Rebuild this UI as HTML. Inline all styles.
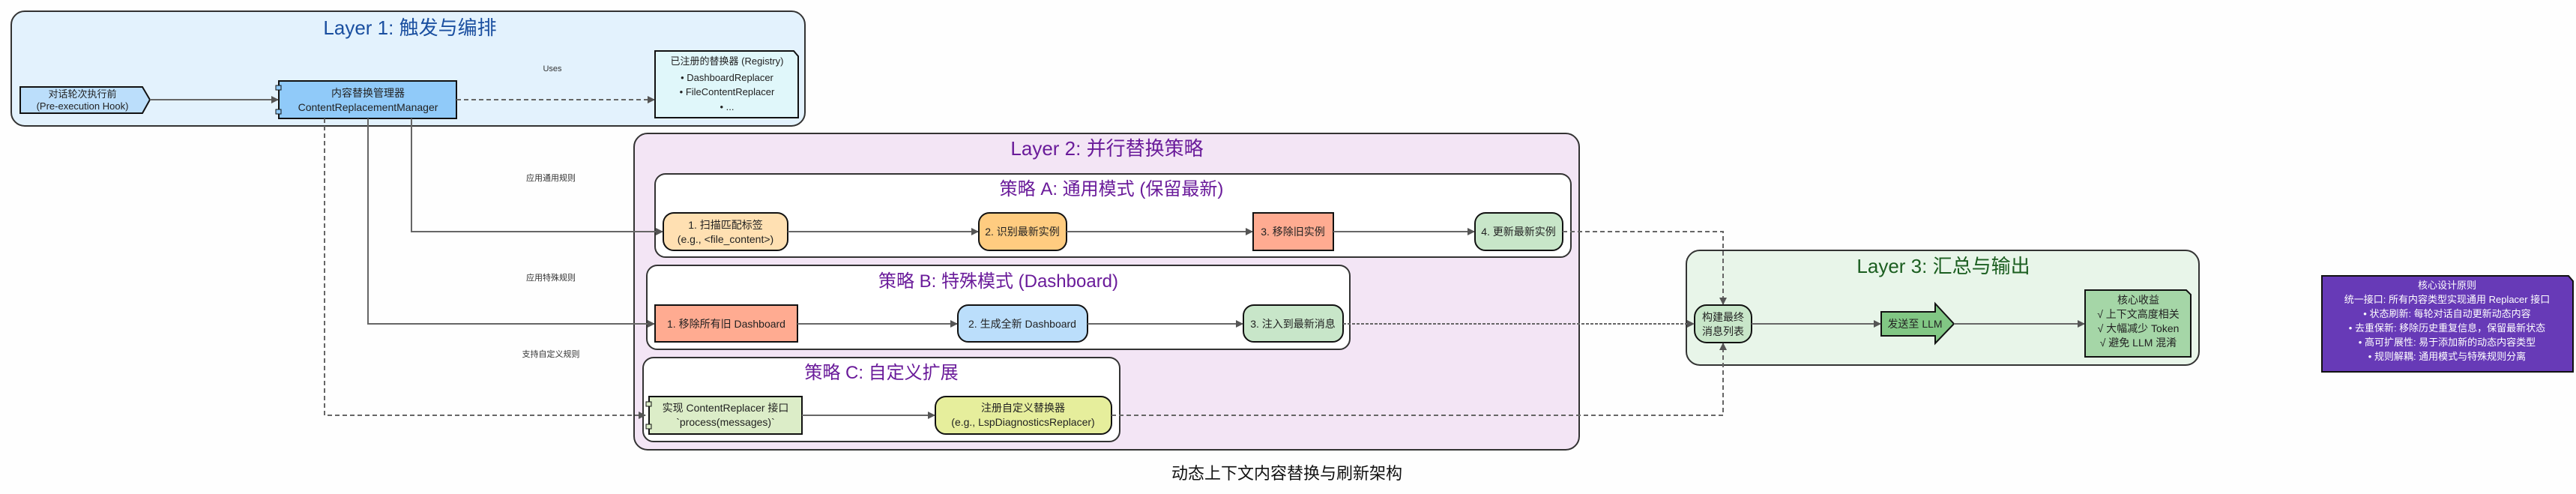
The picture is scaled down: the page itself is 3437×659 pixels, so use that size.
<!DOCTYPE html>
<html><head><meta charset="utf-8"><style>
html,body{margin:0;padding:0;background:#fefefe;}
svg{display:block;font-family:"Liberation Sans","Noto Sans CJK SC",sans-serif;}
</style></head><body>
<svg width="3437" height="659" viewBox="0 0 3437 659" xmlns="http://www.w3.org/2000/svg">
<defs>
<marker id="ah" markerWidth="10" markerHeight="10" refX="9" refY="5" orient="auto" markerUnits="userSpaceOnUse"><path d="M0,0 L10,5 L0,10 z" fill="#555"/></marker>
</defs>
<rect width="3437" height="659" fill="#fefefe"/>

<!-- Layer 1 -->
<rect x="15" y="15" width="1059" height="153" rx="18" fill="#e3f2fd" stroke="#333" stroke-width="2"/>
<text x="547" y="46" font-size="26" fill="#1a4fa0" text-anchor="middle">Layer 1: 触发与编排</text>
<polygon points="27,116 190,116 200,133 190,151 27,151" fill="#bbdefb" stroke="#111" stroke-width="2"/>
<text x="110" y="130" font-size="13" text-anchor="middle" fill="#222">对话轮次执行前</text>
<text x="110" y="146" font-size="13" text-anchor="middle" fill="#222">(Pre-execution Hook)</text>
<rect x="372" y="108" width="237" height="50" fill="#90caf9" stroke="#111" stroke-width="2"/>
<rect x="368" y="114" width="7" height="6" fill="#90caf9" stroke="#111"/>
<rect x="368" y="146" width="7" height="6" fill="#90caf9" stroke="#111"/>
<text x="491" y="129" font-size="14" text-anchor="middle" fill="#222">内容替换管理器</text>
<text x="491" y="148" font-size="14" text-anchor="middle" fill="#222">ContentReplacementManager</text>
<path d="M874,68 L1059,68 L1065,75 L1065,157 L874,157 z" fill="#e0f7fa" stroke="#111" stroke-width="2"/>
<text x="970" y="86" font-size="13" text-anchor="middle" fill="#222">已注册的替换器 (Registry)</text>
<text x="970" y="108" font-size="13" text-anchor="middle" fill="#222">• DashboardReplacer</text>
<text x="970" y="127" font-size="13" text-anchor="middle" fill="#222">• FileContentReplacer</text>
<text x="970" y="147" font-size="13" text-anchor="middle" fill="#222">• ...</text>
<text x="737" y="95" font-size="11" text-anchor="middle" fill="#333">Uses</text>
<line x1="200" y1="133" x2="371" y2="133" stroke="#666" stroke-width="2" marker-end="url(#ah)"/>
<line x1="609" y1="133" x2="873" y2="133" stroke="#666" stroke-width="2" stroke-dasharray="6,4" marker-end="url(#ah)"/>

<!-- Layer 2 -->
<rect x="846" y="178" width="1261" height="422" rx="18" fill="#f3e5f5" stroke="#333" stroke-width="2"/>
<text x="1477" y="207" font-size="26" fill="#6a1b9a" text-anchor="middle">Layer 2: 并行替换策略</text>

<rect x="874" y="232" width="1222" height="111" rx="14" fill="#fff" stroke="#333" stroke-width="2"/>
<text x="1483" y="260" font-size="24" fill="#6a1b9a" text-anchor="middle">策略 A: 通用模式 (保留最新)</text>
<rect x="885" y="284" width="166" height="50" rx="14" fill="#ffe0b2" stroke="#111" stroke-width="2"/>
<text x="968" y="305" font-size="14" text-anchor="middle" fill="#222">1. 扫描匹配标签</text>
<text x="968" y="324" font-size="14" text-anchor="middle" fill="#222">(e.g., &lt;file_content&gt;)</text>
<rect x="1306" y="284" width="117" height="50" rx="14" fill="#ffcc80" stroke="#111" stroke-width="2"/>
<text x="1364" y="314" font-size="14" text-anchor="middle" fill="#222">2. 识别最新实例</text>
<rect x="1672" y="284" width="107" height="50" fill="#ffab91" stroke="#111" stroke-width="2"/>
<text x="1725" y="314" font-size="14" text-anchor="middle" fill="#222">3. 移除旧实例</text>
<rect x="1968" y="284" width="117" height="50" rx="14" fill="#c8e6c9" stroke="#111" stroke-width="2"/>
<text x="2026" y="314" font-size="14" text-anchor="middle" fill="#222">4. 更新最新实例</text>
<line x1="1051" y1="309" x2="1305" y2="309" stroke="#666" stroke-width="2" marker-end="url(#ah)"/>
<line x1="1423" y1="309" x2="1671" y2="309" stroke="#666" stroke-width="2" marker-end="url(#ah)"/>
<line x1="1779" y1="309" x2="1967" y2="309" stroke="#666" stroke-width="2" marker-end="url(#ah)"/>

<rect x="863" y="354" width="938" height="112" rx="14" fill="#fff" stroke="#333" stroke-width="2"/>
<text x="1332" y="383" font-size="24" fill="#6a1b9a" text-anchor="middle">策略 B: 特殊模式 (Dashboard)</text>
<rect x="874" y="407" width="190" height="49" fill="#ffab91" stroke="#111" stroke-width="2"/>
<text x="969" y="437" font-size="14" text-anchor="middle" fill="#222">1. 移除所有旧 Dashboard</text>
<rect x="1278" y="407" width="173" height="49" rx="14" fill="#bbdefb" stroke="#111" stroke-width="2"/>
<text x="1364" y="437" font-size="14" text-anchor="middle" fill="#222">2. 生成全新 Dashboard</text>
<rect x="1659" y="407" width="133" height="49" rx="14" fill="#c8e6c9" stroke="#111" stroke-width="2"/>
<text x="1725" y="437" font-size="14" text-anchor="middle" fill="#222">3. 注入到最新消息</text>
<line x1="1064" y1="432" x2="1277" y2="432" stroke="#666" stroke-width="2" marker-end="url(#ah)"/>
<line x1="1451" y1="432" x2="1658" y2="432" stroke="#666" stroke-width="2" marker-end="url(#ah)"/>

<rect x="858" y="477" width="636" height="112" rx="14" fill="#fff" stroke="#333" stroke-width="2"/>
<text x="1176" y="505" font-size="24" fill="#6a1b9a" text-anchor="middle">策略 C: 自定义扩展</text>
<rect x="866" y="529" width="204" height="50" fill="#dcedc8" stroke="#111" stroke-width="2"/>
<rect x="862" y="536" width="7" height="6" fill="#dcedc8" stroke="#111"/>
<rect x="862" y="566" width="7" height="6" fill="#dcedc8" stroke="#111"/>
<text x="968" y="549" font-size="14" text-anchor="middle" fill="#222">实现 ContentReplacer 接口</text>
<text x="968" y="568" font-size="14" text-anchor="middle" fill="#222">`process(messages)`</text>
<rect x="1248" y="529" width="235" height="50" rx="14" fill="#e6ee9c" stroke="#111" stroke-width="2"/>
<text x="1365" y="549" font-size="14" text-anchor="middle" fill="#222">注册自定义替换器</text>
<text x="1365" y="568" font-size="14" text-anchor="middle" fill="#222">(e.g., LspDiagnosticsReplacer)</text>
<line x1="1070" y1="554" x2="1247" y2="554" stroke="#666" stroke-width="2" marker-end="url(#ah)"/>

<!-- manager to strategies -->
<polyline points="549,158 549,309 884,309" fill="none" stroke="#666" stroke-width="2" marker-end="url(#ah)"/>
<polyline points="491,158 491,432 873,432" fill="none" stroke="#666" stroke-width="2" marker-end="url(#ah)"/>
<polyline points="433,158 433,554 861,554" fill="none" stroke="#666" stroke-width="2" stroke-dasharray="6,4" marker-end="url(#ah)"/>
<text x="735" y="241" font-size="11" text-anchor="middle" fill="#333">应用通用规则</text>
<text x="735" y="374" font-size="11" text-anchor="middle" fill="#333">应用特殊规则</text>
<text x="735" y="476" font-size="11" text-anchor="middle" fill="#333">支持自定义规则</text>

<!-- Layer 3 -->
<rect x="2250" y="334" width="684" height="153" rx="18" fill="#e8f5e9" stroke="#333" stroke-width="2"/>
<text x="2593" y="364" font-size="26" fill="#1b5e20" text-anchor="middle">Layer 3: 汇总与输出</text>
<rect x="2261" y="407" width="76" height="50" rx="16" fill="#c8e6c9" stroke="#111" stroke-width="2"/>
<text x="2299" y="428" font-size="14" text-anchor="middle" fill="#222">构建最终</text>
<text x="2299" y="447" font-size="14" text-anchor="middle" fill="#222">消息列表</text>
<polygon points="2510,416 2582,416 2582,405 2607,432 2582,458 2582,448 2510,448" fill="#81c784" stroke="#111" stroke-width="2"/>
<text x="2555" y="437" font-size="14" text-anchor="middle" fill="#222">发送至 LLM</text>
<path d="M2782,387 L2917,387 L2923,393 L2923,476 L2782,476 z" fill="#a5d6a7" stroke="#111" stroke-width="2"/>
<text x="2853" y="405" font-size="14" text-anchor="middle" fill="#222">核心收益</text>
<text x="2853" y="424" font-size="14" text-anchor="middle" fill="#222">√ 上下文高度相关</text>
<text x="2853" y="443" font-size="14" text-anchor="middle" fill="#222">√ 大幅减少 Token</text>
<text x="2853" y="462" font-size="14" text-anchor="middle" fill="#222">√ 避免 LLM 混淆</text>
<line x1="2337" y1="432" x2="2509" y2="432" stroke="#666" stroke-width="2" marker-end="url(#ah)"/>
<line x1="2607" y1="432" x2="2781" y2="432" stroke="#666" stroke-width="2" marker-end="url(#ah)"/>

<!-- dashed to build -->
<polyline points="2085,309 2299,309 2299,406" fill="none" stroke="#666" stroke-width="2" stroke-dasharray="6,4" marker-end="url(#ah)"/>
<line x1="1792" y1="432" x2="2260" y2="432" stroke="#666" stroke-width="2" stroke-dasharray="4,2" marker-end="url(#ah)"/>
<polyline points="1483,554 2299,554 2299,458" fill="none" stroke="#666" stroke-width="2" stroke-dasharray="6,4" marker-end="url(#ah)"/>

<!-- principles -->
<path d="M3098,368 L3427,368 L3433,375 L3433,496 L3098,496 z" fill="#673ab7" stroke="#111" stroke-width="2"/>
<text x="3265" y="385" font-size="13" text-anchor="middle" fill="#fff">核心设计原则</text>
<text x="3265" y="404" font-size="13" text-anchor="middle" fill="#fff">统一接口: 所有内容类型实现通用 Replacer 接口</text>
<text x="3265" y="423" font-size="13" text-anchor="middle" fill="#fff">• 状态刷新: 每轮对话自动更新动态内容</text>
<text x="3265" y="442" font-size="13" text-anchor="middle" fill="#fff">• 去重保新: 移除历史重复信息，保留最新状态</text>
<text x="3265" y="461" font-size="13" text-anchor="middle" fill="#fff">• 高可扩展性: 易于添加新的动态内容类型</text>
<text x="3265" y="480" font-size="13" text-anchor="middle" fill="#fff">• 规则解耦: 通用模式与特殊规则分离</text>

<text x="1717" y="639" font-size="22" text-anchor="middle" fill="#111">动态上下文内容替换与刷新架构</text>
</svg>
</body></html>
